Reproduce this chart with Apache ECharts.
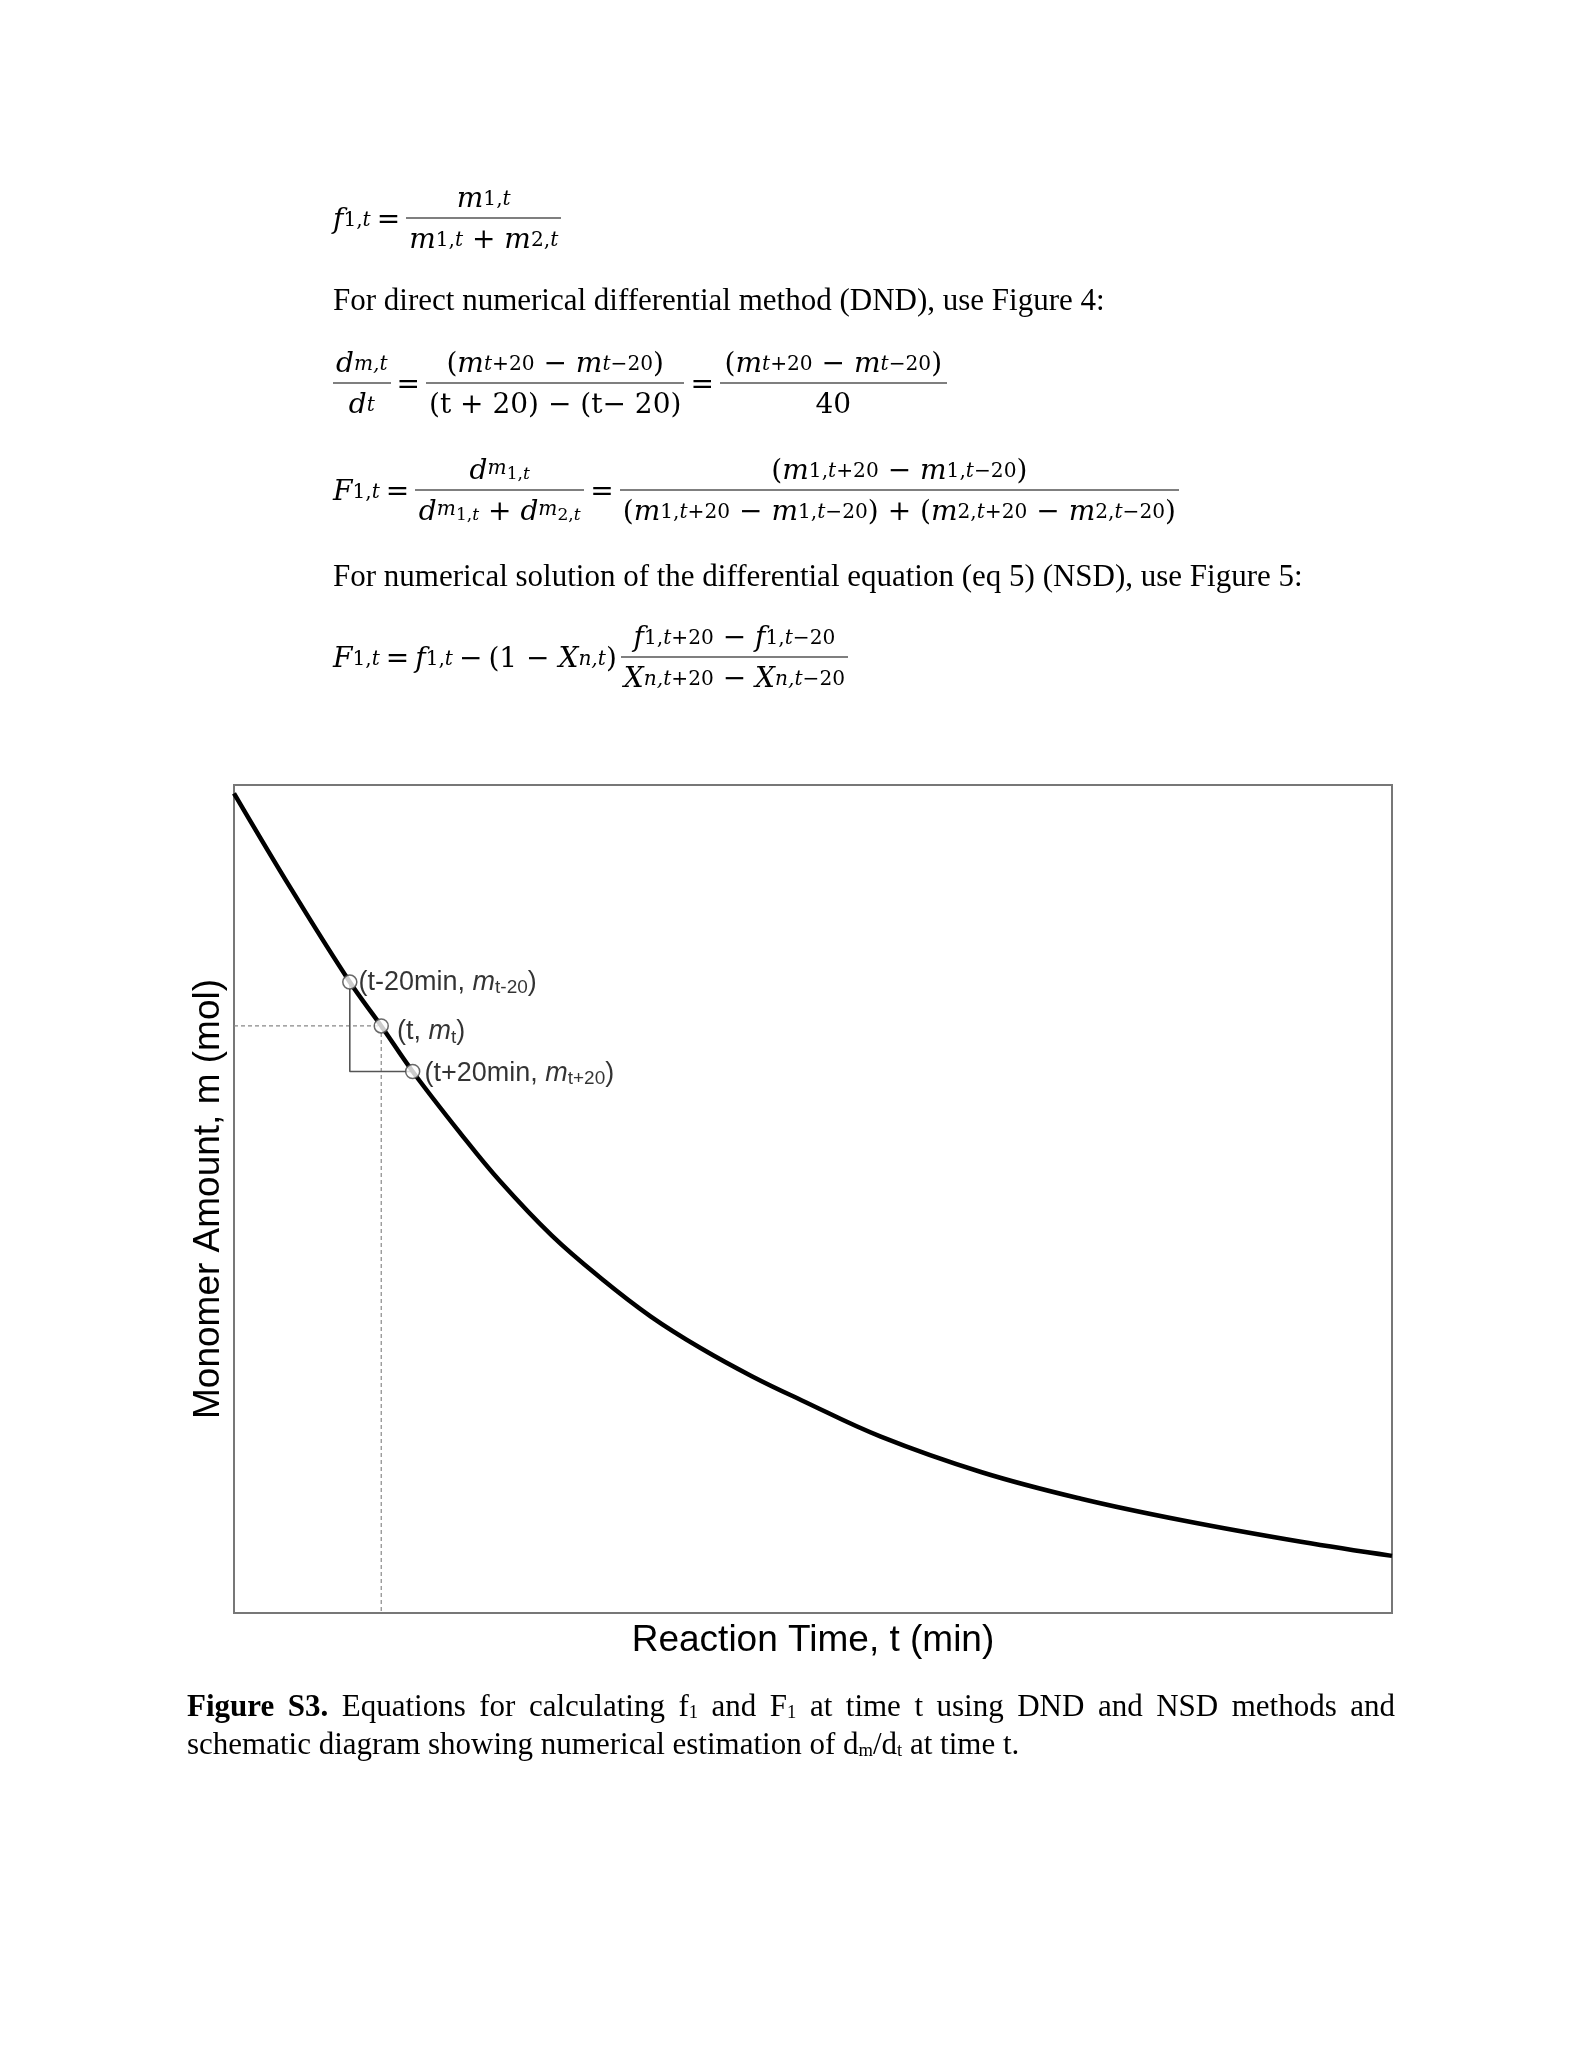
<!DOCTYPE html>
<html>
<head>
<meta charset="utf-8">
<script src="https://cdn.jsdelivr.net/npm/echarts@6/dist/echarts.min.js"></script>
<style>
  html, body { margin:0; padding:0; background:#fff; }
  #page { position:relative; width:1582px; height:2048px; overflow:hidden; background:#fff; }
  #chart { position:absolute; left:0; top:0; width:1582px; height:2048px; }
  .eq { position:absolute; display:flex; align-items:center; font-family:'DejaVu Serif',serif;
        font-size:28px; color:#000; transform:translateY(-50%); white-space:nowrap; pointer-events:none; }
  .frac { display:inline-flex; flex-direction:column; align-items:center; }
  .frac .n, .frac .d { height:40px; line-height:40px; display:flex; align-items:center; justify-content:center; padding:0 3px; }
  .frac .bar { align-self:stretch; border-top:1.7px solid #000; height:0; }
  .eq sub { font-size:0.72em; vertical-align:-0.3em; line-height:0; }
  .eq sub sub { font-size:0.85em; }
  .op { margin:0 6px; }
  .txt { position:absolute; font-family:'Liberation Serif','Times New Roman',serif; font-size:31px; color:#000;
         transform:translateY(-50%); white-space:nowrap; pointer-events:none; }
  .cap { position:absolute; left:187px; width:1208px; font-family:'Liberation Serif','Times New Roman',serif;
         font-size:31px; color:#000; transform:translateY(-50%); white-space:nowrap; pointer-events:none; }
  .cap sub { font-size:0.6em; vertical-align:-0.1em; line-height:0; }
  .just { text-align:justify; text-align-last:justify; }
</style>
</head>
<body>
<div id="page">
  <div id="chart"></div>

  <!-- f1,t = m1,t / (m1,t + m2,t) -->
  <div class="eq" style="left:333px; top:218px;">
    <i>f</i><sub>1,<i>t</i></sub><span class="op">=</span>
    <span class="frac" style="min-width:153px;">
      <span class="n"><i>m</i><sub>1,<i>t</i></sub></span>
      <span class="bar"></span>
      <span class="d"><i>m</i><sub>1,<i>t</i></sub>&nbsp;+&nbsp;<i>m</i><sub>2,<i>t</i></sub></span>
    </span>
  </div>

  <div class="txt" style="left:333px; top:300px;">For direct numerical differential method (DND), use Figure 4:</div>

  <!-- dm,t/dt = ... -->
  <div class="eq" style="left:333px; top:383px;">
    <span class="frac" style="min-width:48px;">
      <span class="n"><i>d</i><sub><i>m,t</i></sub></span>
      <span class="bar"></span>
      <span class="d"><i>d</i><sub><i>t</i></sub></span>
    </span>
    <span class="op">=</span>
    <span class="frac" style="min-width:257px;">
      <span class="n">(<i>m</i><sub><i>t</i>+20</sub>&nbsp;−&nbsp;<i>m</i><sub><i>t</i>−20</sub>)</span>
      <span class="bar"></span>
      <span class="d">(t + 20) − (t− 20)</span>
    </span>
    <span class="op">=</span>
    <span class="frac" style="min-width:227px;">
      <span class="n">(<i>m</i><sub><i>t</i>+20</sub>&nbsp;−&nbsp;<i>m</i><sub><i>t</i>−20</sub>)</span>
      <span class="bar"></span>
      <span class="d">40</span>
    </span>
  </div>

  <!-- F1,t = ... -->
  <div class="eq" style="left:333px; top:490px;">
    <i>F</i><sub>1,<i>t</i></sub><span class="op">=</span>
    <span class="frac" style="min-width:169px;">
      <span class="n"><i>d</i><sub><i>m</i><sub>1,<i>t</i></sub></sub></span>
      <span class="bar"></span>
      <span class="d"><i>d</i><sub><i>m</i><sub>1,<i>t</i></sub></sub>&nbsp;+&nbsp;<i>d</i><sub><i>m</i><sub>2,<i>t</i></sub></sub></span>
    </span>
    <span class="op">=</span>
    <span class="frac" style="min-width:540px;">
      <span class="n">(<i>m</i><sub>1,<i>t</i>+20</sub>&nbsp;−&nbsp;<i>m</i><sub>1,<i>t</i>−20</sub>)</span>
      <span class="bar"></span>
      <span class="d">(<i>m</i><sub>1,<i>t</i>+20</sub>&nbsp;−&nbsp;<i>m</i><sub>1,<i>t</i>−20</sub>)&nbsp;+&nbsp;(<i>m</i><sub>2,<i>t</i>+20</sub>&nbsp;−&nbsp;<i>m</i><sub>2,<i>t</i>−20</sub>)</span>
    </span>
  </div>

  <div class="txt" style="left:333px; top:576px;">For numerical solution of the differential equation (eq 5) (NSD), use Figure 5:</div>

  <!-- F1,t = f1,t − (1 − Xn,t) ... -->
  <div class="eq" style="left:333px; top:657px;">
    <i>F</i><sub>1,<i>t</i></sub><span class="op">=</span><i>f</i><sub>1,<i>t</i></sub><span class="op">−</span>(1&nbsp;−&nbsp;<i>X</i><sub><i>n,t</i></sub>)
    <span class="frac" style="min-width:222px; margin-left:4px;">
      <span class="n"><i>f</i><sub>1,<i>t</i>+20</sub>&nbsp;−&nbsp;<i>f</i><sub>1,<i>t</i>−20</sub></span>
      <span class="bar"></span>
      <span class="d"><i>X</i><sub><i>n,t</i>+20</sub>&nbsp;−&nbsp;<i>X</i><sub><i>n,t</i>−20</sub></span>
    </span>
  </div>

  <div class="cap just" style="top:1706px;"><b>Figure S3.</b> Equations for calculating f<sub>1</sub> and F<sub>1</sub> at time t using DND and NSD methods and</div>
  <div class="cap" style="top:1744px;">schematic diagram showing numerical estimation of d<sub>m</sub>/d<sub>t</sub> at time t.</div>
</div>

<script>
// ---- data ----
var timeMin   = [0, 35, 70, 89, 108, 137, 161, 192, 222, 252, 282, 313, 343, 391, 452, 512, 573, 645, 700];
var monomer   = [99.0, 87.3, 76.2, 70.9, 65.4, 57.9, 52.1, 45.6, 40.4, 35.8, 32.0, 28.6, 25.7, 21.3, 17.0, 13.8, 11.2, 8.6, 6.9];
var markTime  = [70, 89, 108];          // t-20, t, t+20
var markValue = [76.2, 70.9, 65.4];     // m(t-20), m(t), m(t+20)
var markLabel = ['{a|(t-20min, }{i|m}{s|t-20}{a|)}', '{a|(t, }{i|m}{s|t}{a|)}', '{a|(t+20min, }{i|m}{s|t+20}{a|)}'];
var xTitle = 'Reaction Time, t (min)';
var yTitle = 'Monomer Amount, m (mol)';

var curve = timeMin.map(function (t, i) { return [t, monomer[i]]; });
var labelDist = [1, 8, 4];
var labelOff  = [[0, 0], [0, 6], [0, 2]];
var markers = markTime.map(function (t, i) {
  return { value: [t, markValue[i]],
           label: { show: true, position: 'right', distance: labelDist[i], offset: labelOff[i], formatter: markLabel[i] } };
});

var rich = {
  a: { fontSize: 27, fontFamily: 'Liberation Sans', color: '#000', lineHeight: 30 },
  i: { fontSize: 27, fontFamily: 'Liberation Sans', fontStyle: 'italic', color: '#000', lineHeight: 30 },
  s: { fontSize: 19, fontFamily: 'Liberation Sans', color: '#000', lineHeight: 8, verticalAlign: 'bottom' }
};

var chart = echarts.init(document.getElementById('chart'), null, { renderer: 'canvas' });
chart.setOption({
  backgroundColor: 'transparent',
  animation: false,
  grid: { left: 234, top: 785, width: 1158, height: 828, show: true, borderColor: '#777', borderWidth: 2, backgroundColor: 'transparent' },
  xAxis: {
    type: 'value', min: 0, max: 700,
    axisLine: { show: false }, axisTick: { show: false }, axisLabel: { show: false }, splitLine: { show: false },
    name: xTitle, nameLocation: 'middle', nameGap: 9,
    nameTextStyle: { fontSize: 37, fontFamily: 'Liberation Sans', color: '#000' }
  },
  yAxis: {
    type: 'value', min: 0, max: 100,
    axisLine: { show: false }, axisTick: { show: false }, axisLabel: { show: false }, splitLine: { show: false },
    name: yTitle, nameLocation: 'middle', nameGap: 7,
    nameTextStyle: { fontSize: 37, fontFamily: 'Liberation Sans', color: '#000' }
  },
  series: [
    { type: 'line', data: [[0, markValue[1]], [markTime[1], markValue[1]]], symbol: 'none', silent: true,
      lineStyle: { color: '#888', width: 1.2, type: [4, 3] }, z: 1 },
    { type: 'line', data: [[markTime[1], markValue[1]], [markTime[1], 0]], symbol: 'none', silent: true,
      lineStyle: { color: '#888', width: 1.2, type: [4, 3] }, z: 1 },
    { type: 'line', data: [[markTime[0], markValue[0]], [markTime[0], markValue[2]], [markTime[2], markValue[2]]],
      symbol: 'none', silent: true, lineStyle: { color: '#555', width: 1.6 }, z: 1 },
    { type: 'line', data: curve, symbol: 'none', smooth: 0.4, silent: true,
      lineStyle: { color: '#000', width: 4.5 }, z: 3 },
    { type: 'scatter', data: markers, symbol: 'circle', symbolSize: 14, silent: true,
      itemStyle: { color: '#fff', borderColor: '#444', borderWidth: 1.5 },
      label: { rich: rich }, z: 5 }
  ]
});
</script>
</body>
</html>
